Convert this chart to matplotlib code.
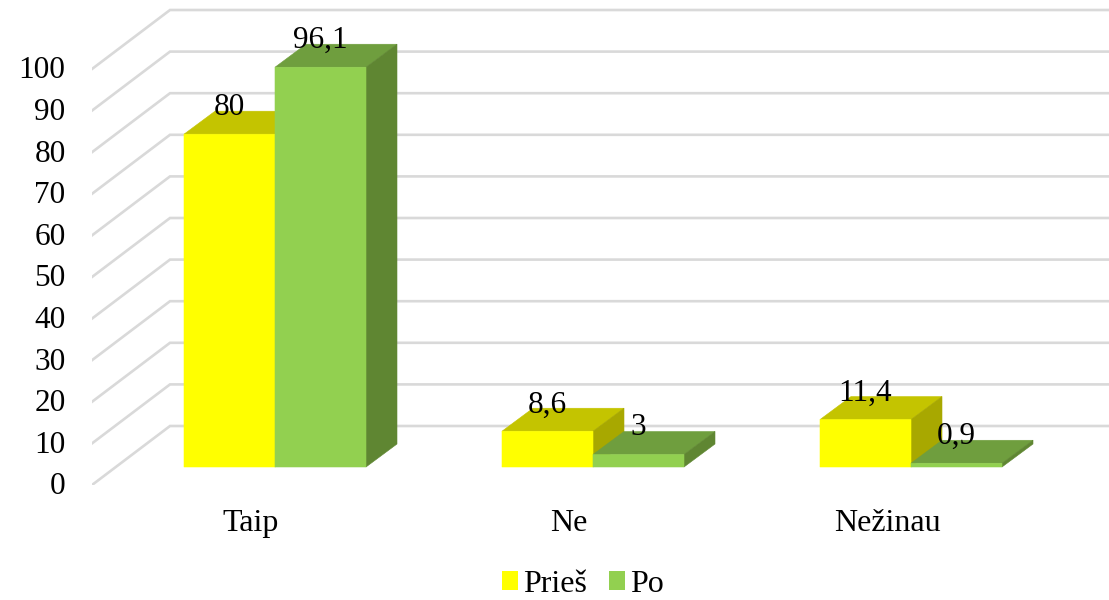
import numpy as np
import matplotlib
matplotlib.use("Agg")
import matplotlib.pyplot as plt
from matplotlib.patches import Polygon, Patch
from matplotlib.transforms import ScaledTranslation

plt.rcParams['font.family'] = ['Liberation Serif', 'DejaVu Serif']

categories = ["Taip", "Ne", "Nežinau"]
series_names = ["Prieš", "Po"]
pries = [80, 8.6, 11.4]
po = [96.1, 3, 0.9]
pries_labels = ["80", "8,6", "11,4"]
po_labels = ["96,1", "3", "0,9"]
y_ticks = [0, 10, 20, 30, 40, 50, 60, 70, 80, 90, 100]

W, H = 1109, 600
# pixel scale of the category and value axes
px_cat = 318.0
px_val = 4.16
left_px, base_px = 92, 485

fig = plt.figure(figsize=(W / 100, H / 100), dpi=100)
ax = fig.add_axes([left_px / W, (H - base_px) / H, (W - left_px) / W, base_px / H])
ax.set_xlim((left_px - 275) / px_cat, (W - 275) / px_cat)
ax.set_ylim(0, base_px / px_val)
for s in ax.spines.values():
    s.set_visible(False)

# depth of the wall and of the bars, in axis units
wall_dx, wall_dy = 78 / px_cat, 59 / px_val
floor_dx, floor_dy = 24 / px_cat, 18 / px_val
bar_dx, bar_dy = 31 / px_cat, 23 / px_val
bar_w = 91 / px_cat

x0 = ax.get_xlim()[0]
x1 = ax.get_xlim()[1]
for v in y_ticks:
    ax.plot([x0, x0 + wall_dx, x1], [v, v + wall_dy, v + wall_dy],
            color="#D9D9D9", lw=1.9, zorder=1, solid_joinstyle="miter")


def face(points, color, z):
    # same colour edge and no snapping, otherwise seams show between the faces
    ax.add_patch(Polygon(points, fc=color, ec=color, lw=0.4, zorder=z, snap=False))


def bar3d(left, val, front, top, side, z):
    y0 = floor_dy
    y1 = floor_dy + val
    r = left + bar_w
    face([(left, y1), (r, y1), (r + bar_dx, y1 + bar_dy), (left + bar_dx, y1 + bar_dy)], top, z)
    face([(r, y0), (r + bar_dx, y0 + bar_dy), (r + bar_dx, y1 + bar_dy), (r, y1)], side, z)
    face([(left, y0), (r, y0), (r, y1), (left, y1)], front, z + 0.1)


for i in range(len(categories)):
    bar3d(i - bar_w, pries[i], "#FFFF00", "#C4C400", "#A8A800", 2 + i)
    bar3d(i, po[i], "#92D050", "#6F9E3E", "#5F8632", 2.5 + i)
    ax.text(i - bar_w / 2, floor_dy + pries[i] + 6.3, pries_labels[i], ha="center", va="center",
            fontsize=22.5, color="black", zorder=10)
    ax.text(i + bar_w / 2, floor_dy + po[i] + 6.5, po_labels[i], ha="center", va="center",
            fontsize=22.5, color="black", zorder=10)

ax.set_yticks(y_ticks)
ax.set_yticklabels([str(v) for v in y_ticks], fontsize=22.5)
ax.tick_params(axis="y", length=0, pad=19)
# labels sit a little above the gridline ends
up = ScaledTranslation(0, 1.5 / 100, fig.dpi_scale_trans)
for lab in ax.get_yticklabels():
    lab.set_transform(lab.get_transform() + up)
ax.set_xticks(np.arange(len(categories)) - floor_dx)
ax.set_xticklabels(categories, fontsize=23)
ax.tick_params(axis="x", length=0, pad=17)

handles = [Patch(fc="#FFFF00", ec="none"), Patch(fc="#92D050", ec="none")]
fig.legend(handles, series_names, ncol=2, loc="lower center", bbox_to_anchor=(583 / W, -0.046),
           frameon=False, fontsize=23, handlelength=0.5, handleheight=0.5,
           handletextpad=0.175, columnspacing=0.68)

fig.savefig("out.png", dpi=100)
